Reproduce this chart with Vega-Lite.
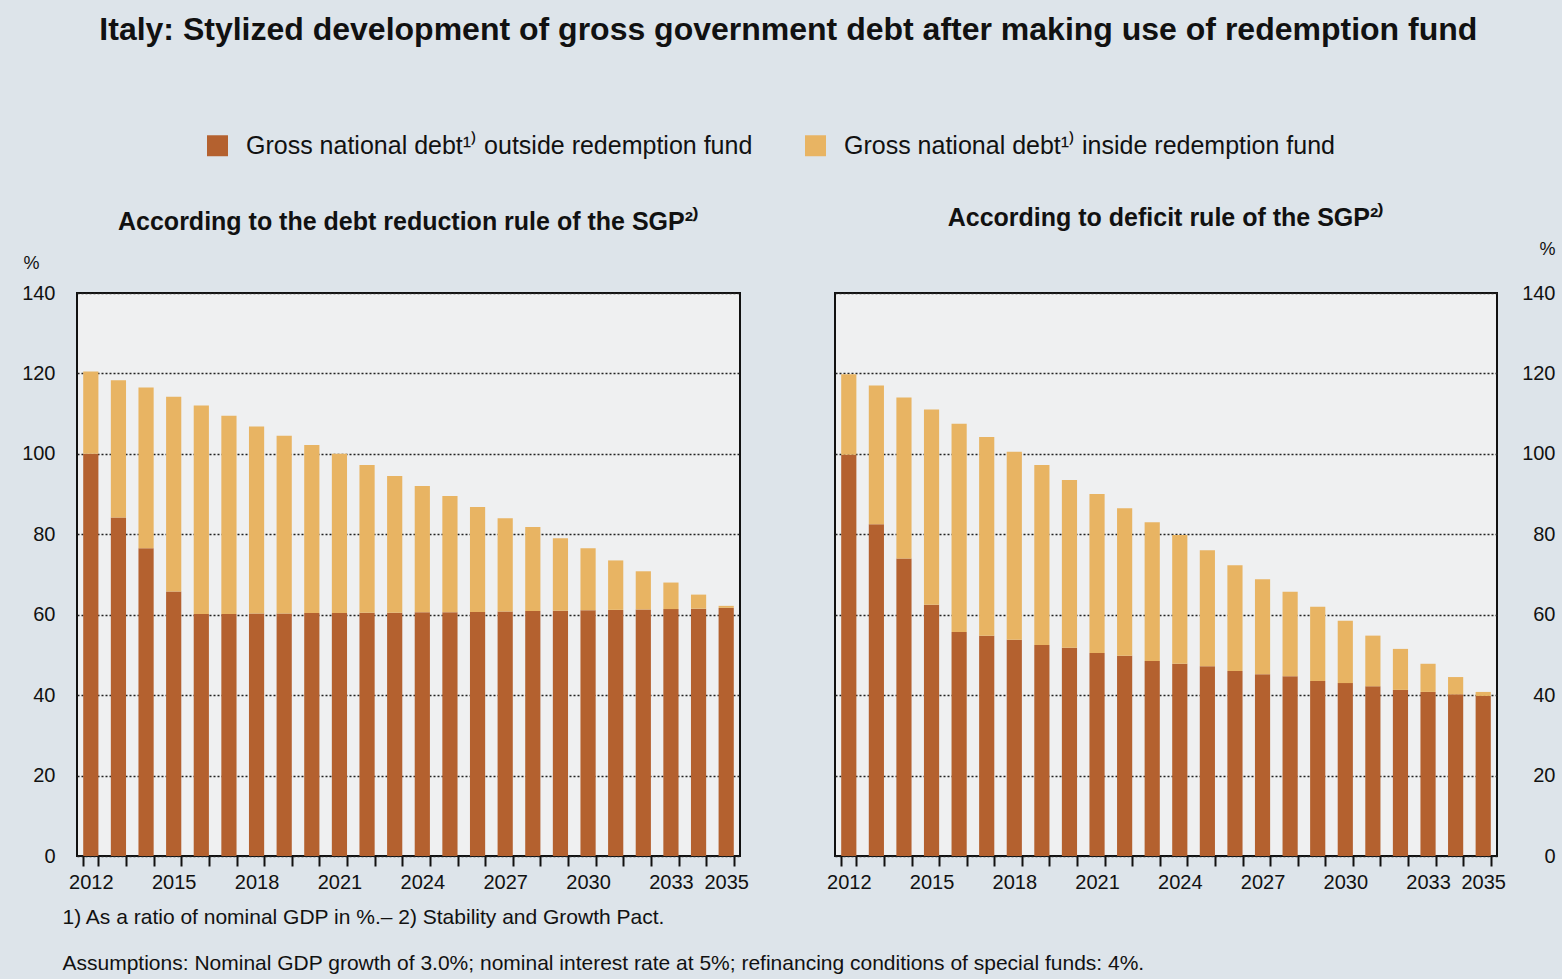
{
  "$schema": "https://vega.github.io/schema/vega-lite/v6.json",
  "background": "#dde4ea",
  "padding": {"left": 20, "top": 14, "right": 5, "bottom": 5},
  "autosize": {"type": "pad"},
  "title": {
    "text": "Italy: Stylized development of gross government debt after making use of redemption fund",
    "fontSize": 32,
    "fontWeight": "bold",
    "color": "#111111",
    "anchor": "middle",
    "offset": 86
  },
  "datasets": {
    "debt": [
      {"p": "debt", "year": 2012, "s": "outside", "v": 100.0}, {"p": "debt", "year": 2012, "s": "inside", "v": 20.5},
      {"p": "debt", "year": 2013, "s": "outside", "v": 84.2}, {"p": "debt", "year": 2013, "s": "inside", "v": 34.1},
      {"p": "debt", "year": 2014, "s": "outside", "v": 76.5}, {"p": "debt", "year": 2014, "s": "inside", "v": 40.0},
      {"p": "debt", "year": 2015, "s": "outside", "v": 65.8}, {"p": "debt", "year": 2015, "s": "inside", "v": 48.4},
      {"p": "debt", "year": 2016, "s": "outside", "v": 60.2}, {"p": "debt", "year": 2016, "s": "inside", "v": 51.8},
      {"p": "debt", "year": 2017, "s": "outside", "v": 60.2}, {"p": "debt", "year": 2017, "s": "inside", "v": 49.3},
      {"p": "debt", "year": 2018, "s": "outside", "v": 60.3}, {"p": "debt", "year": 2018, "s": "inside", "v": 46.5},
      {"p": "debt", "year": 2019, "s": "outside", "v": 60.3}, {"p": "debt", "year": 2019, "s": "inside", "v": 44.2},
      {"p": "debt", "year": 2020, "s": "outside", "v": 60.4}, {"p": "debt", "year": 2020, "s": "inside", "v": 41.8},
      {"p": "debt", "year": 2021, "s": "outside", "v": 60.4}, {"p": "debt", "year": 2021, "s": "inside", "v": 39.6},
      {"p": "debt", "year": 2022, "s": "outside", "v": 60.5}, {"p": "debt", "year": 2022, "s": "inside", "v": 36.7},
      {"p": "debt", "year": 2023, "s": "outside", "v": 60.5}, {"p": "debt", "year": 2023, "s": "inside", "v": 34.0},
      {"p": "debt", "year": 2024, "s": "outside", "v": 60.6}, {"p": "debt", "year": 2024, "s": "inside", "v": 31.4},
      {"p": "debt", "year": 2025, "s": "outside", "v": 60.6}, {"p": "debt", "year": 2025, "s": "inside", "v": 28.9},
      {"p": "debt", "year": 2026, "s": "outside", "v": 60.7}, {"p": "debt", "year": 2026, "s": "inside", "v": 26.1},
      {"p": "debt", "year": 2027, "s": "outside", "v": 60.8}, {"p": "debt", "year": 2027, "s": "inside", "v": 23.2},
      {"p": "debt", "year": 2028, "s": "outside", "v": 60.9}, {"p": "debt", "year": 2028, "s": "inside", "v": 20.9},
      {"p": "debt", "year": 2029, "s": "outside", "v": 61.0}, {"p": "debt", "year": 2029, "s": "inside", "v": 18.0},
      {"p": "debt", "year": 2030, "s": "outside", "v": 61.1}, {"p": "debt", "year": 2030, "s": "inside", "v": 15.4},
      {"p": "debt", "year": 2031, "s": "outside", "v": 61.2}, {"p": "debt", "year": 2031, "s": "inside", "v": 12.3},
      {"p": "debt", "year": 2032, "s": "outside", "v": 61.3}, {"p": "debt", "year": 2032, "s": "inside", "v": 9.5},
      {"p": "debt", "year": 2033, "s": "outside", "v": 61.4}, {"p": "debt", "year": 2033, "s": "inside", "v": 6.6},
      {"p": "debt", "year": 2034, "s": "outside", "v": 61.5}, {"p": "debt", "year": 2034, "s": "inside", "v": 3.5},
      {"p": "debt", "year": 2035, "s": "outside", "v": 61.7}, {"p": "debt", "year": 2035, "s": "inside", "v": 0.5}
    ],
    "deficit": [
      {"p": "deficit", "year": 2012, "s": "outside", "v": 99.8}, {"p": "deficit", "year": 2012, "s": "inside", "v": 20.0},
      {"p": "deficit", "year": 2013, "s": "outside", "v": 82.5}, {"p": "deficit", "year": 2013, "s": "inside", "v": 34.5},
      {"p": "deficit", "year": 2014, "s": "outside", "v": 74.0}, {"p": "deficit", "year": 2014, "s": "inside", "v": 40.0},
      {"p": "deficit", "year": 2015, "s": "outside", "v": 62.5}, {"p": "deficit", "year": 2015, "s": "inside", "v": 48.5},
      {"p": "deficit", "year": 2016, "s": "outside", "v": 55.7}, {"p": "deficit", "year": 2016, "s": "inside", "v": 51.8},
      {"p": "deficit", "year": 2017, "s": "outside", "v": 54.8}, {"p": "deficit", "year": 2017, "s": "inside", "v": 49.4},
      {"p": "deficit", "year": 2018, "s": "outside", "v": 53.8}, {"p": "deficit", "year": 2018, "s": "inside", "v": 46.7},
      {"p": "deficit", "year": 2019, "s": "outside", "v": 52.5}, {"p": "deficit", "year": 2019, "s": "inside", "v": 44.7},
      {"p": "deficit", "year": 2020, "s": "outside", "v": 51.8}, {"p": "deficit", "year": 2020, "s": "inside", "v": 41.7},
      {"p": "deficit", "year": 2021, "s": "outside", "v": 50.5}, {"p": "deficit", "year": 2021, "s": "inside", "v": 39.5},
      {"p": "deficit", "year": 2022, "s": "outside", "v": 49.8}, {"p": "deficit", "year": 2022, "s": "inside", "v": 36.7},
      {"p": "deficit", "year": 2023, "s": "outside", "v": 48.5}, {"p": "deficit", "year": 2023, "s": "inside", "v": 34.5},
      {"p": "deficit", "year": 2024, "s": "outside", "v": 47.8}, {"p": "deficit", "year": 2024, "s": "inside", "v": 32.0},
      {"p": "deficit", "year": 2025, "s": "outside", "v": 47.2}, {"p": "deficit", "year": 2025, "s": "inside", "v": 28.8},
      {"p": "deficit", "year": 2026, "s": "outside", "v": 46.0}, {"p": "deficit", "year": 2026, "s": "inside", "v": 26.3},
      {"p": "deficit", "year": 2027, "s": "outside", "v": 45.2}, {"p": "deficit", "year": 2027, "s": "inside", "v": 23.6},
      {"p": "deficit", "year": 2028, "s": "outside", "v": 44.7}, {"p": "deficit", "year": 2028, "s": "inside", "v": 21.0},
      {"p": "deficit", "year": 2029, "s": "outside", "v": 43.5}, {"p": "deficit", "year": 2029, "s": "inside", "v": 18.5},
      {"p": "deficit", "year": 2030, "s": "outside", "v": 43.0}, {"p": "deficit", "year": 2030, "s": "inside", "v": 15.5},
      {"p": "deficit", "year": 2031, "s": "outside", "v": 42.2}, {"p": "deficit", "year": 2031, "s": "inside", "v": 12.6},
      {"p": "deficit", "year": 2032, "s": "outside", "v": 41.3}, {"p": "deficit", "year": 2032, "s": "inside", "v": 10.2},
      {"p": "deficit", "year": 2033, "s": "outside", "v": 40.8}, {"p": "deficit", "year": 2033, "s": "inside", "v": 7.0},
      {"p": "deficit", "year": 2034, "s": "outside", "v": 40.2}, {"p": "deficit", "year": 2034, "s": "inside", "v": 4.3},
      {"p": "deficit", "year": 2035, "s": "outside", "v": 39.8}, {"p": "deficit", "year": 2035, "s": "inside", "v": 1.0}
    ]
  },
  "bounds": "flush",
  "spacing": 95,
  "hconcat": [
    {
      "data": {"name": "debt"},
      "width": 663,
      "height": 563,
      "title": {
        "text": "According to the debt reduction rule of the SGP²⁾",
        "fontSize": 25,
        "fontWeight": "bold",
        "color": "#111111",
        "anchor": "middle",
        "offset": 19
      },
      "mark": {"type": "bar"},
      "encoding": {
        "x": {
          "field": "year",
          "type": "ordinal",
          "scale": {"paddingInner": 0.45, "paddingOuter": 0.225},
          "axis": {
            "labelAngle": 0,
            "labelExpr": "(datum.value == 2035 || (datum.value - 2012) % 3 == 0) ? datum.label : ''",
            "tickBand": "extent",
            "title": [
              "1) As a ratio of nominal GDP in %.– 2) Stability and Growth Pact.",
              "Assumptions: Nominal GDP growth of 3.0%; nominal interest rate at 5%; refinancing conditions of special funds: 4%."
            ],
            "titleAnchor": "start",
            "titleAlign": "left",
            "titleX": -15,
            "titleY": 67,
            "titleBaseline": "alphabetic",
            "titleLineHeight": 46,
            "titleFontSize": 21,
            "titleFontWeight": "normal",
            "titleColor": "#111111"
          }
        },
        "y": {
          "field": "v",
          "type": "quantitative",
          "stack": "zero",
          "scale": {"domain": [0, 140], "nice": false},
          "axis": {
            "orient": "left",
            "values": [0, 20, 40, 60, 80, 100, 120, 140],
            "labelPadding": 22,
            "title": "%",
            "titleAngle": 0,
            "titleX": -46,
            "titleY": -30,
            "titleAlign": "center",
            "titleBaseline": "middle",
            "titleFontSize": 18,
            "titleFontWeight": "normal",
            "titleColor": "#111111"
          }
        },
        "color": {
          "field": "s",
          "type": "nominal",
          "scale": {"domain": ["outside", "inside"], "range": ["#b4612f", "#e8b463"]},
          "legend": {
            "orient": "none",
            "legendX": 128,
            "legendY": -160,
            "direction": "horizontal",
            "columns": 2,
            "title": null,
            "symbolType": "square",
            "symbolSize": 440,
            "symbolOpacity": 1,
            "symbolStrokeWidth": 0,
            "labelFontSize": 25,
            "labelColor": "#111111",
            "labelOffset": 16,
            "labelLimit": 0,
            "columnPadding": 50,
            "labelExpr": "datum.value == 'outside' ? 'Gross national debt¹⁾ outside redemption fund' : 'Gross national debt¹⁾ inside redemption fund'"
          }
        },
        "order": {"field": "s", "sort": "descending"}
      }
    },
    {
      "data": {"name": "deficit"},
      "width": 662,
      "height": 563,
      "title": {
        "text": "According to deficit rule of the SGP²⁾",
        "fontSize": 25,
        "fontWeight": "bold",
        "color": "#111111",
        "anchor": "middle",
        "offset": 9
      },
      "mark": {"type": "bar"},
      "encoding": {
        "x": {
          "field": "year",
          "type": "ordinal",
          "scale": {"paddingInner": 0.45, "paddingOuter": 0.225},
          "axis": {
            "labelAngle": 0,
            "labelExpr": "(datum.value == 2035 || (datum.value - 2012) % 3 == 0) ? datum.label : ''",
            "tickBand": "extent",
            "title": null
          }
        },
        "y": {
          "field": "v",
          "type": "quantitative",
          "stack": "zero",
          "scale": {"domain": [0, 140], "nice": false},
          "axis": {
            "orient": "right",
            "values": [0, 20, 40, 60, 80, 100, 120, 140],
            "labelPadding": 58,
            "labelAlign": "right",
            "title": "%",
            "titleAngle": 0,
            "titleX": 50,
            "titleY": -44,
            "titleAlign": "center",
            "titleBaseline": "middle",
            "titleFontSize": 18,
            "titleFontWeight": "normal",
            "titleColor": "#111111"
          }
        },
        "color": {
          "field": "s",
          "type": "nominal",
          "scale": {"domain": ["outside", "inside"], "range": ["#b4612f", "#e8b463"]}
        },
        "order": {"field": "s", "sort": "descending"}
      }
    }
  ],
  "resolve": {"scale": {"x": "independent", "y": "independent"}},
  "config": {
    "font": "Liberation Sans",
    "view": {"stroke": "#111111", "strokeWidth": 2, "fill": "#eff0f1"},
    "axis": {
      "domain": false,
      "labelFontSize": 20,
      "labelColor": "#111111",
      "labelFont": "Liberation Sans"
    },
    "axisX": {
      "ticks": true,
      "tickColor": "#111111",
      "tickWidth": 2,
      "tickSize": 10,
      "labelPadding": 6,
      "grid": false
    },
    "axisY": {
      "ticks": false,
      "grid": true,
      "gridColor": "#222222",
      "gridDash": [2, 2],
      "gridWidth": 1.5,
      "gridOpacity": 1
    }
  }
}
